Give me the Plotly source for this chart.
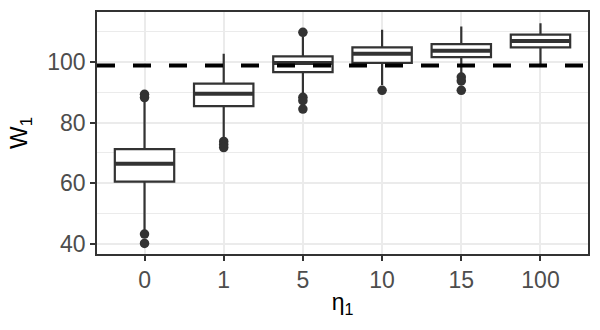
import plotly.graph_objects as go

categories = ["0", "1", "5", "10", "15", "100"]
q1 = [60.5, 85.5, 96.7, 99.8, 101.7, 104.9]
median = [66.4, 89.6, 99.7, 102.8, 103.8, 107.0]
q3 = [71.3, 92.9, 101.9, 104.9, 106.0, 109.1]
lower_whisker = [44.0, 75.0, 89.5, 92.5, 96.0, 99.2]
upper_whisker = [87.0, 102.8, 108.5, 110.7, 111.8, 112.9]
outlier_cat = [0, 0, 0, 0, 1, 1, 1, 2, 2, 2, 2, 3, 4, 4, 4]
outlier_val = [89.4, 88.3, 43.2, 40.1, 73.8, 72.8, 71.8, 109.9, 88.4, 87.3, 84.5, 90.7, 95.1, 93.8, 90.7]
reference_value = 98.9
y_ticks = [40, 60, 80, 100]

DARK = "#333333"
GRID = "#ebebeb"
BOX_W = 0.75

xs = list(range(len(categories)))

fig = go.Figure()

fig.add_trace(go.Box(
    x=xs, q1=q1, median=median, q3=q3,
    lowerfence=lower_whisker, upperfence=upper_whisker,
    width=BOX_W, whiskerwidth=0,
    fillcolor="white", line=dict(color=DARK, width=2.2),
    boxpoints=False, showlegend=False, hoverinfo="skip",
))

# thicker median bars
mx, my = [], []
for i, m in zip(xs, median):
    mx += [i - BOX_W / 2, i + BOX_W / 2, None]
    my += [m, m, None]
fig.add_trace(go.Scatter(x=mx, y=my, mode="lines",
                         line=dict(color=DARK, width=4),
                         showlegend=False, hoverinfo="skip"))

fig.add_trace(go.Scatter(x=outlier_cat, y=outlier_val, mode="markers",
                         marker=dict(color=DARK, size=9.5),
                         showlegend=False, hoverinfo="skip"))

fig.add_shape(type="line", xref="paper", x0=0, x1=1, yref="y",
              y0=reference_value, y1=reference_value,
              line=dict(color="black", width=4, dash="18px,18px"),
              layer="above")

fig.update_layout(
    width=600, height=330,
    margin=dict(l=97, r=12, t=10, b=76),
    paper_bgcolor="white", plot_bgcolor="white",
    font=dict(family="Liberation Sans, Arial, sans-serif", size=23, color="#4d4d4d"),
    xaxis=dict(
        range=[-0.6, 5.6], tickmode="array", tickvals=xs, ticktext=categories,
        showgrid=True, gridcolor=GRID, gridwidth=1.5,
        zeroline=False, showline=True, mirror=True, linecolor=DARK, linewidth=1.5,
        ticks="outside", ticklen=5, tickwidth=1.5, tickcolor=DARK,
        title=dict(text="η<sub>1</sub>", font=dict(size=23, color="black"), standoff=2),
    ),
    yaxis=dict(
        range=[36.6, 116.6], tickmode="array", tickvals=y_ticks,
        showgrid=True, gridcolor=GRID, gridwidth=1.5,
        minor=dict(tickvals=[50, 70, 90, 110], showgrid=True, gridcolor=GRID, gridwidth=0.8),
        zeroline=False, showline=True, mirror=True, linecolor=DARK, linewidth=1.5,
        ticks="outside", ticklen=5, tickwidth=1.5, tickcolor=DARK,
        title=dict(text="W<sub>1</sub>", font=dict(size=24, color="black"), standoff=13),
    ),
)

fig.write_html("out.html")
